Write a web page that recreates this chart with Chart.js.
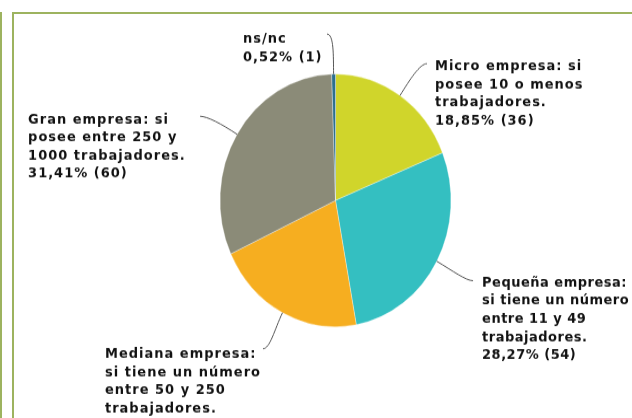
<!DOCTYPE html>
<html>
<head>
<meta charset="utf-8">
<script src="https://cdn.jsdelivr.net/npm/chart.js@4"></script>
<style>
  html, body { margin: 0; padding: 0; background: #fff; overflow: hidden; }
  body { width: 632px; height: 418px; position: relative; }
  #wrap { position: absolute; left: 0; top: 0; width: 632px; height: 382px;
          transform: scaleY(1.0942); transform-origin: 0 0; }
  .frame { position: absolute; background: #9db35f; }
</style>
</head>
<body>
<div class="frame" style="left:0;top:12px;width:2px;height:406px;"></div>
<div class="frame" style="left:12px;top:12px;width:2px;height:406px;"></div>
<div class="frame" style="left:12px;top:12px;width:620px;height:2px;"></div>
<div id="wrap"><canvas id="c" width="632" height="382"></canvas></div>
<script>
// ---- data ----
const categories = [
  ["Micro empresa: si", "posee 10 o menos", "trabajadores."],
  ["Pequeña empresa:", "si tiene un número", "entre 11 y 49", "trabajadores."],
  ["Mediana empresa:", "si tiene un número", "entre 50 y 250", "trabajadores."],
  ["Gran empresa: si", "posee entre 250 y", "1000 trabajadores."],
  ["ns/nc"]
];
const values = [36, 54, 40, 60, 1];
const colors = ["#d0d52b", "#34bfc1", "#f6ae20", "#8b8b78", "#2c6f8d"];

// ---- label layout (leader end offset from slice edge, text offset from leader end) ----
const leaderOffsets = [[27, -29.2], [36.3, 17.8], [-19.5, 32.9], [-37, -16.5], [-6.6, -36.6]];
const textOffsets = [[8, 5.8], [9, 5.2], [-158, 8.5], [-172, 6.4], [-84, 8]];
const letterSpacings = ['1px', '0.5px', '1px', '1px', '1px'];

const total = values.reduce((a, b) => a + b, 0);
const pctText = v => (v / total * 100).toFixed(2).replace('.', ',') + '% (' + v + ')';

const labelPlugin = {
  id: 'pieLabels',
  afterDatasetsDraw(chart) {
    const ctx = chart.ctx;
    const meta = chart.getDatasetMeta(0);
    ctx.save();
    meta.data.forEach((arc, i) => {
      const p = arc.getProps(['x', 'y', 'startAngle', 'endAngle', 'outerRadius'], true);
      const mid = (p.startAngle + p.endAngle) / 2;
      const dx = Math.cos(mid), dy = Math.sin(mid);
      const ex = p.x + dx * p.outerRadius, ey = p.y + dy * p.outerRadius;
      const lx = ex + leaderOffsets[i][0], ly = ey + leaderOffsets[i][1];
      const hook = leaderOffsets[i][0] >= 0 ? 1 : -1;
      const len = Math.hypot(leaderOffsets[i][0], leaderOffsets[i][1]);
      ctx.beginPath();
      ctx.moveTo(ex, ey);
      ctx.bezierCurveTo(ex + dx * len * 0.45, ey + dy * len * 0.45,
                        lx - hook * 7, ly, lx, ly);
      ctx.strokeStyle = '#555';
      ctx.lineWidth = 1;
      ctx.stroke();

      const lines = categories[i].concat([pctText(values[i])]);
      ctx.fillStyle = '#111';
      ctx.font = 'bold 13px "DejaVu Sans"';
      if ('letterSpacing' in ctx) ctx.letterSpacing = letterSpacings[i];
      ctx.textAlign = 'left';
      ctx.textBaseline = 'alphabetic';
      const tx = lx + textOffsets[i][0], ty = ly + textOffsets[i][1];
      lines.forEach((t, k) => ctx.fillText(t, tx, ty + k * 16.6));
    });
    ctx.restore();
  }
};

new Chart(document.getElementById('c'), {
  type: 'pie',
  data: {
    labels: categories.map(c => c.join(' ')),
    datasets: [{
      data: values,
      backgroundColor: colors,
      borderColor: 'rgba(255,255,255,0.55)',
      borderWidth: 0.6,
      radius: 115.5
    }]
  },
  options: {
    responsive: false,
    animation: false,
    layout: { padding: { left: 39, right: 0, top: 0, bottom: 15.6 } },
    plugins: { legend: { display: false }, tooltip: { enabled: false } }
  },
  plugins: [labelPlugin]
});
</script>
</body>
</html>
